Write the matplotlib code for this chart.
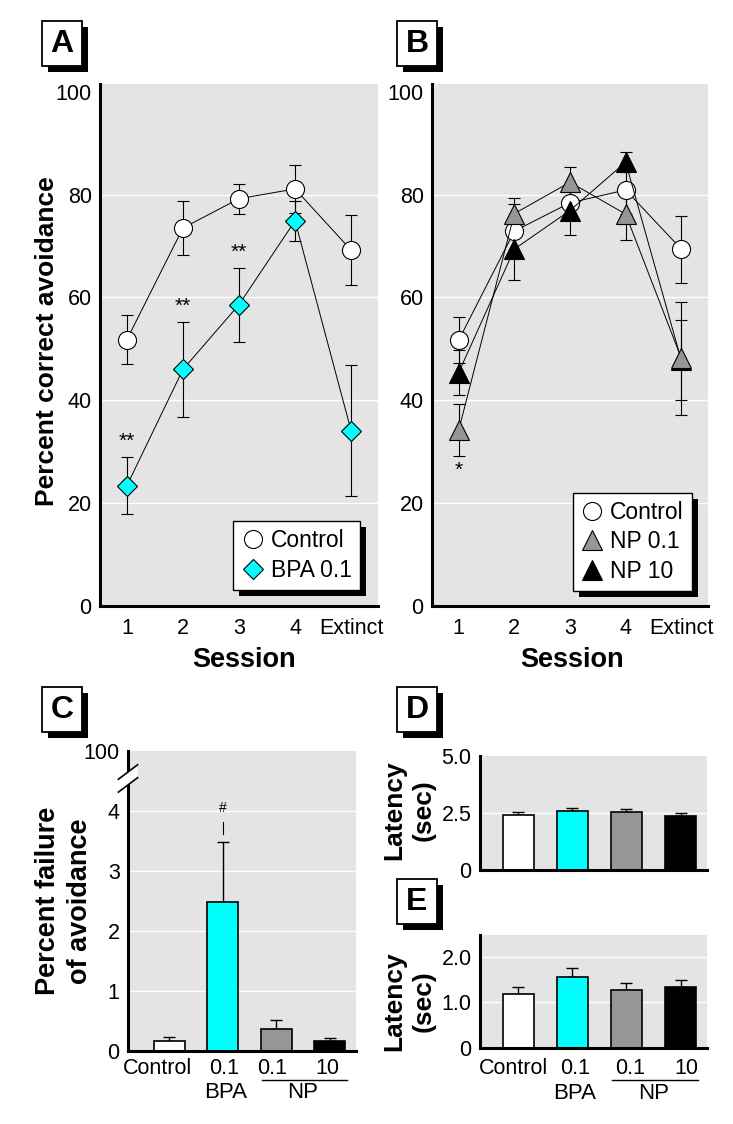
import numpy as np
import matplotlib.pyplot as plt
from matplotlib.patches import Rectangle, Polygon
from matplotlib.transforms import IdentityTransform, blended_transform_factory

plt.rcParams['font.family'] = ['Liberation Sans', 'DejaVu Sans']

# ---- data ----
sessions = ['1', '2', '3', '4', 'Extinct']

ctrl_a = [51.8, 73.5, 79.2, 81.1, 69.2]
ctrl_a_err = [4.7, 5.2, 2.9, 4.6, 6.8]
bpa = [23.4, 46.0, 58.6, 74.9, 34.1]
bpa_err = [5.6, 9.3, 7.2, 3.9, 12.8]

ctrl_b = [51.7, 72.9, 78.4, 80.9, 69.4]
ctrl_b_err = [4.5, 5.2, 2.9, 4.6, 6.5]
np01 = [34.2, 76.3, 82.4, 76.2, 48.2]
np01_err = [5.0, 3.0, 3.0, 5.0, 11.0]
np10 = [45.4, 69.4, 76.9, 86.3, 47.8]
np10_err = [4.3, 6.0, 4.8, 2.0, 7.8]

groups = ['Control', '0.1', '0.1', '10']
bar_colors = ['white', '#00ffff', '#969696', 'black']
fail = [0.16, 2.48, 0.36, 0.16]
fail_err = [0.08, 1.01, 0.15, 0.06]
lat_d = [2.43, 2.60, 2.56, 2.36]
lat_d_err = [0.13, 0.11, 0.12, 0.12]
lat_e = [1.18, 1.55, 1.27, 1.34]
lat_e_err = [0.15, 0.20, 0.15, 0.15]

W, H = 733, 1124
BG = '#e4e4e4'
CYAN = '#00ffff'
GRAY = '#969696'

fig = plt.figure(figsize=(W / 100, H / 100), dpi=100)


def px_axes(left, top, right, bottom):
    """axes from pixel box (measured from top-left)"""
    return fig.add_axes([left / W, 1 - bottom / H, (right - left) / W, (bottom - top) / H])


def style(ax, grid):
    ax.set_facecolor(BG)
    for s in ['top', 'right']:
        ax.spines[s].set_visible(False)
    for s in ['left', 'bottom']:
        ax.spines[s].set_linewidth(2.2)
    ax.tick_params(length=0, labelsize=15.5, pad=6)
    for g in grid:
        ax.axhline(g, color='white', lw=1.0, zorder=0.5)


def panel_letter(x0, y0, letter):
    w, h = 40, 45
    fig.add_artist(Rectangle(((x0 + 6) / W, 1 - (y0 + h + 6) / H), w / W, h / H,
                             transform=fig.transFigure, facecolor='black', edgecolor='none'))
    fig.add_artist(Rectangle((x0 / W, 1 - (y0 + h) / H), w / W, h / H,
                             transform=fig.transFigure, facecolor='white', edgecolor='black', lw=1.3))
    fig.text((x0 + w / 2) / W, 1 - (y0 + h / 2) / H, letter, ha='center', va='center',
             fontsize=23, fontweight='bold')


def ftext(x, y, s, **kw):
    fig.text(x / W, 1 - y / H, s, ha='center', va='center', **kw)


x = np.arange(1, 6)
mk = dict(mec='black', mew=0.8, lw=0.7, color='black', zorder=3)
eb = dict(fmt='none', ecolor='black', elinewidth=0.8, capsize=4.5, capthick=0.8, zorder=2)

# ---- panel A ----
axA = px_axes(100, 84, 378, 606)
style(axA, [20, 40, 60, 80])
axA.errorbar(x, ctrl_a, yerr=ctrl_a_err, **eb)
axA.errorbar(x, bpa, yerr=bpa_err, **eb)
axA.plot(x, ctrl_a, marker='o', ms=13, mfc='white', label='Control', **mk)
axA.plot(x, bpa, marker='D', ms=10.5, mfc=CYAN, label='BPA 0.1', **mk)
for i in range(3):
    axA.text(x[i], bpa[i] + bpa_err[i] + 1.2, '**', ha='center', va='bottom', fontsize=15)

# ---- panel B ----
axB = px_axes(432, 84, 708, 606)
style(axB, [20, 40, 60, 80])
axB.errorbar(x, ctrl_b, yerr=ctrl_b_err, **eb)
axB.errorbar(x, np10, yerr=np10_err, **eb)
axB.errorbar(x, np01, yerr=np01_err, **eb)
axB.plot(x, ctrl_b, marker='o', ms=13, mfc='white', label='Control', **mk)
axB.plot(x, np10, marker='^', ms=14, mfc='black', label='NP 10', **mk)
axB.plot(x, np01, marker='^', ms=14, mfc=GRAY, label='NP 0.1', **mk)
axB.text(x[0], np01[0] - np01_err[0] - 1.0, '*', ha='center', va='top', fontsize=15)

for ax in (axA, axB):
    ax.set_xlim(0.52, 5.48)
    ax.set_ylim(0, 101.5)
    ax.set_xticks(x)
    ax.set_xticklabels(sessions)
    ax.set_yticks([0, 20, 40, 60, 80, 100])
    ax.tick_params(axis='x', pad=9)

leg_kw = dict(loc='lower right', fontsize=16.5, frameon=True, fancybox=False,
              edgecolor='black', framealpha=1, handlelength=1.0, handletextpad=0.3,
              borderpad=0.35, labelspacing=0.3, borderaxespad=0)
hA, lA = axA.get_legend_handles_labels()
legA = axA.legend(hA, lA, bbox_to_anchor=(0.935, 0.03), **leg_kw)
hB, lB = axB.get_legend_handles_labels()
order = [0, 2, 1]
legB = axB.legend([hB[i] for i in order], [lB[i] for i in order],
                  bbox_to_anchor=(0.942, 0.028), **leg_kw)
for leg in (legA, legB):
    leg.get_frame().set_linewidth(1.0)
    for line in leg.get_lines():
        line.set_linestyle('none')

ftext(47.5, 341, 'Percent correct avoidance', rotation=90, fontsize=19, fontweight='bold')
ftext(244, 660, 'Session', fontsize=19.5, fontweight='bold')
ftext(572, 660, 'Session', fontsize=19.5, fontweight='bold')

# ---- bar panels ----
pos = np.arange(4)


def bars(ax, vals, errs):
    ax.bar(pos, vals, width=0.58, color=bar_colors, edgecolor='black', lw=1.2, zorder=2)
    ax.errorbar(pos, vals, yerr=[np.zeros(4), errs], fmt='none', ecolor='black',
                elinewidth=1.0, capsize=4.5, capthick=1.0, zorder=1.5)


def group_labels(ax, shifts, down_tick, down_line, down_text):
    tr = blended_transform_factory(ax.transData, ax.transAxes)
    ax.set_xticks([])
    for p, lab, dx in zip(pos, groups, shifts):
        ax.annotate(lab, xy=(p, 0), xycoords=('data', 'axes fraction'),
                    xytext=(dx, -down_tick), textcoords='offset pixels',
                    ha='center', va='center', fontsize=15.5, annotation_clip=False)
    ax.plot([1.73, 3.33], [down_line, down_line], color='black', lw=1.0,
            transform=tr, clip_on=False)
    ax.text(1.05, down_text, 'BPA', transform=tr, ha='center', va='center', fontsize=16)
    ax.text(2.5, down_text, 'NP', transform=tr, ha='center', va='center', fontsize=16)


# panel C
axC = px_axes(128, 751, 356, 1051)
style(axC, [1, 2, 3, 4])
bars(axC, fail, fail_err)
axC.set_xlim(-0.77, 3.49)
axC.set_ylim(0, 5)
axC.set_yticks([0, 1, 2, 3, 4, 5])
axC.set_yticklabels(['0', '1', '2', '3', '4', '100'])
group_labels(axC, [-12, 1, -4, -2], 18, -0.097, -0.14)
axC.plot([1, 1], [3.62, 3.82], color='black', lw=0.8, zorder=3)
axC.text(1, 4.05, '#', ha='center', va='center', fontsize=10)
# axis break marks
tA = axC.transAxes
axC.add_patch(Polygon([(-0.042, 0.905), (0.042, 0.952), (0.042, 0.910), (-0.042, 0.863)],
                      closed=True, transform=tA, facecolor='white', edgecolor='none',
                      clip_on=False, zorder=5))
for yc in (0.93, 0.887):
    axC.plot([-0.042, 0.042], [yc - 0.024, yc + 0.024], color='black', lw=1.2,
             transform=tA, clip_on=False, zorder=6)
ftext(64, 901, 'Percent failure\nof avoidance', rotation=90, fontsize=19.5,
      fontweight='bold', linespacing=1.3)

# panel D
axD = px_axes(480, 756, 707, 870)
style(axD, [2.5])
bars(axD, lat_d, lat_d_err)
axD.set_xlim(-0.71, 3.49)
axD.set_ylim(0, 4.86)
axD.set_yticks([0, 2.5, 5.0])
axD.set_yticklabels(['0', '2.5', '5.0'])
axD.set_xticks([])
ftext(409, 810, 'Latency\n(sec)', rotation=90, fontsize=19, fontweight='bold', linespacing=1.25)

# panel E
axE = px_axes(480, 935, 707, 1048)
style(axE, [1.0, 2.0])
bars(axE, lat_e, lat_e_err)
axE.set_xlim(-0.71, 3.49)
axE.set_ylim(0, 2.47)
axE.set_yticks([0, 1.0, 2.0])
axE.set_yticklabels(['0', '1.0', '2.0'])
group_labels(axE, [-5, 3, 4, 6], 20, -0.28, -0.40)
ftext(409, 1001, 'Latency\n(sec)', rotation=90, fontsize=19, fontweight='bold', linespacing=1.25)

# panel letters
panel_letter(42, 21, 'A')
panel_letter(397, 21, 'B')
panel_letter(42, 687, 'C')
panel_letter(397, 687, 'D')
panel_letter(397, 879, 'E')

# legend drop shadows
fig.canvas.draw()
for ax, leg in ((axA, legA), (axB, legB)):
    bb = leg.get_window_extent()
    ax.add_patch(Rectangle((bb.x0 + 6, bb.y0 - 6), bb.width, bb.height,
                           transform=IdentityTransform(), facecolor='black',
                           edgecolor='none', zorder=4.5, clip_on=False))

fig.savefig('out.png', dpi=100)
